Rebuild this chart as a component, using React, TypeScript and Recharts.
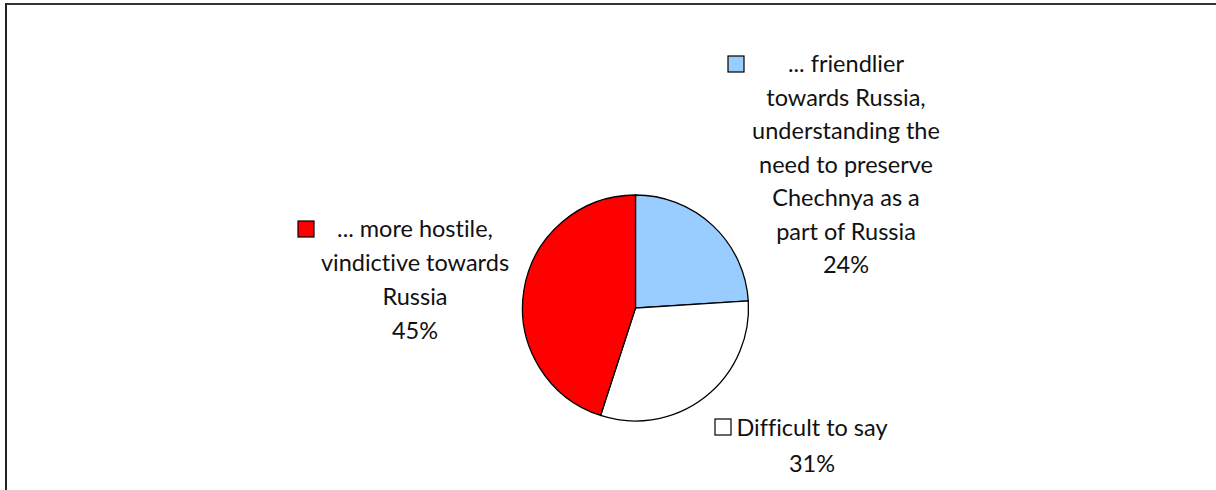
import { PieChart, Pie, Cell } from 'recharts'

// survey answers, clockwise from 12 o'clock
const categories = [
  '... friendlier towards Russia, understanding the need to preserve Chechnya as a part of Russia',
  'Difficult to say',
  '... more hostile, vindictive towards Russia',
]
const values = [24, 31, 45]
const colors = ['#99CCFF', '#FFFFFF', '#FF0000']

// wrapped label text, one list per slice
const labelLines = [
  ['... friendlier', 'towards Russia,', 'understanding the', 'need to preserve', 'Chechnya as a', 'part of Russia'],
  ['Difficult to say'],
  ['... more hostile,', 'vindictive towards', 'Russia'],
]

// where each label block sits (text centre x, first baseline y, legend key x/y)
const LABEL_LAYOUT = [
  { x: 846, y: 72, keyX: 728, keyY: 56, lh: 33.5 },
  { x: 812, y: 436, keyX: 715, keyY: 419, lh: 35.5 },
  { x: 415, y: 237, keyX: 298, keyY: 221, lh: 34 },
]

const FONT = 'Lato, "Open Sans", sans-serif'

const data = categories.map((name, i) => ({ name, value: values[i] }))

function renderLabel(props: any) {
  const i = props.index
  const lay = LABEL_LAYOUT[i]
  const lines = [...labelLines[i], `${values[i]}%`]
  return (
    <g key={`lbl-${i}`}>
      <rect x={lay.keyX} y={lay.keyY} width={16} height={16} fill={colors[i]} stroke="#000" strokeWidth={1.2} />
      {lines.map((t, j) => (
        <text
          key={j}
          x={lay.x}
          y={lay.y + j * lay.lh}
          textAnchor="middle"
          fontFamily={FONT}
          fontSize={23.5}
          fill="#111"
          style={{ fontVariantLigatures: 'none' }}
        >
          {t}
        </text>
      ))}
    </g>
  )
}

export default function App() {
  return (
    <div style={{ position: 'absolute', left: 0, top: 0, width: 1216, height: 490, overflow: 'hidden', background: '#fff' }}>
      <div
        style={{
          position: 'absolute',
          left: 5,
          top: 3,
          width: 1300,
          height: 600,
          borderTop: '2px solid #333',
          borderLeft: '2px solid #222',
        }}
      />
      <div style={{ position: 'absolute', left: 0, top: 0 }}>
        <PieChart width={1216} height={490} margin={{ top: 0, right: 0, bottom: 0, left: 0 }}>
          <Pie
            data={data}
            dataKey="value"
            nameKey="name"
            cx={635.5}
            cy={308}
            outerRadius={113}
            startAngle={90}
            endAngle={-270}
            stroke="#000"
            strokeWidth={1.3}
            label={renderLabel}
            labelLine={false}
            isAnimationActive={false}
          >
            {data.map((d, i) => (
              <Cell key={d.name} fill={colors[i]} />
            ))}
          </Pie>
        </PieChart>
      </div>
    </div>
  )
}
